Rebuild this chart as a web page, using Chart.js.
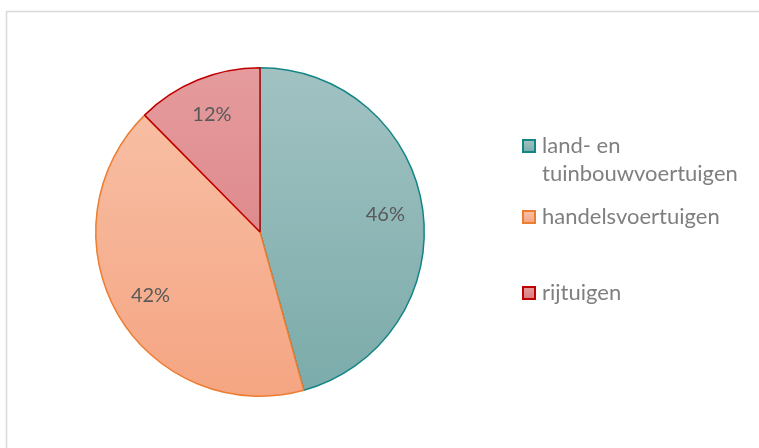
<!DOCTYPE html>
<html>
<head>
<meta charset="utf-8">
<script src="https://cdn.jsdelivr.net/npm/chart.js@4/dist/chart.umd.min.js"></script>
<style>
html,body{margin:0;padding:0;background:#fff;}
#wrap{width:759px;height:448px;position:relative;}
</style>
</head>
<body>
<div id="wrap"><canvas id="c" width="759" height="448"></canvas></div>
<script>
const categories = ['land- en tuinbouwvoertuigen', 'handelsvoertuigen', 'rijtuigen'];
const legendLines = [['land- en', 'tuinbouwvoertuigen'], ['handelsvoertuigen'], ['rijtuigen']];
const values = [45.7, 41.9, 12.4];
const fillTop = ['#a2c2c2', '#f8c2a9', '#e59b9d'];
const fillBottom = ['#7aabaa', '#f5a582', '#d97a7e'];
const borderColors = ['#148585', '#ed7d31', '#c00000'];

function grad(ctx, area, i) {
  const g = ctx.createLinearGradient(0, area.top, 0, area.bottom);
  g.addColorStop(0, fillTop[i]);
  g.addColorStop(1, fillBottom[i]);
  return g;
}

const framePlugin = {
  id: 'frame',
  beforeDraw(chart) {
    const ctx = chart.ctx;
    ctx.save();
    ctx.strokeStyle = '#d9d9d9';
    ctx.lineWidth = 1.5;
    ctx.strokeRect(6.5, 11.5, 900, 600);
    ctx.restore();
  }
};

const labelPlugin = {
  id: 'pctLabels',
  afterDatasetsDraw(chart) {
    const ctx = chart.ctx;
    const meta = chart.getDatasetMeta(0);
    const total = values.reduce((a, b) => a + b, 0);
    ctx.save();
    ctx.font = '20px Lato';
    ctx.fillStyle = '#595959';
    ctx.textAlign = 'center';
    ctx.textBaseline = 'middle';
    meta.data.forEach((arc, i) => {
      const mid = (arc.startAngle + arc.endAngle) / 2;
      const r = arc.outerRadius * 0.77;
      const x = arc.x + Math.cos(mid) * r;
      const y = arc.y + Math.sin(mid) * r;
      ctx.fillText(Math.round(values[i] / total * 100) + '%', x, y);
    });
    ctx.restore();
  }
};

const legendPlugin = {
  id: 'sideLegend',
  afterDraw(chart) {
    const ctx = chart.ctx;
    const ys = [[146, 174], [217], [293]];
    ctx.save();
    ctx.font = '22px Lato';
    ctx.textBaseline = 'middle';
    legendLines.forEach((lines, i) => {
      const y0 = ys[i][0];
      const g = ctx.createLinearGradient(0, y0 - 6, 0, y0 + 6);
      g.addColorStop(0, fillTop[i]);
      g.addColorStop(1, fillBottom[i]);
      ctx.fillStyle = g;
      ctx.fillRect(523, y0 - 6, 12, 12);
      ctx.strokeStyle = borderColors[i];
      ctx.lineWidth = 2;
      ctx.strokeRect(523, y0 - 6, 12, 12);
      ctx.fillStyle = '#7f7f7f';
      lines.forEach((t, j) => ctx.fillText(t, 542, ys[i][j]));
    });
    ctx.restore();
  }
};

new Chart(document.getElementById('c'), {
  type: 'pie',
  data: {
    labels: categories,
    datasets: [{
      data: values,
      backgroundColor: (c) => {
        const area = c.chart.chartArea;
        if (!area) return fillTop[c.dataIndex];
        return grad(c.chart.ctx, area, c.dataIndex);
      },
      borderColor: borderColors,
      borderWidth: 1.5,
      borderAlign: 'center'
    }]
  },
  options: {
    responsive: false,
    animation: false,
    layout: { padding: { left: 95, right: 334, top: 67, bottom: 51 } },
    plugins: {
      legend: { display: false },
      tooltip: { enabled: false }
    }
  },
  plugins: [framePlugin, labelPlugin, legendPlugin]
});
</script>
</body>
</html>
